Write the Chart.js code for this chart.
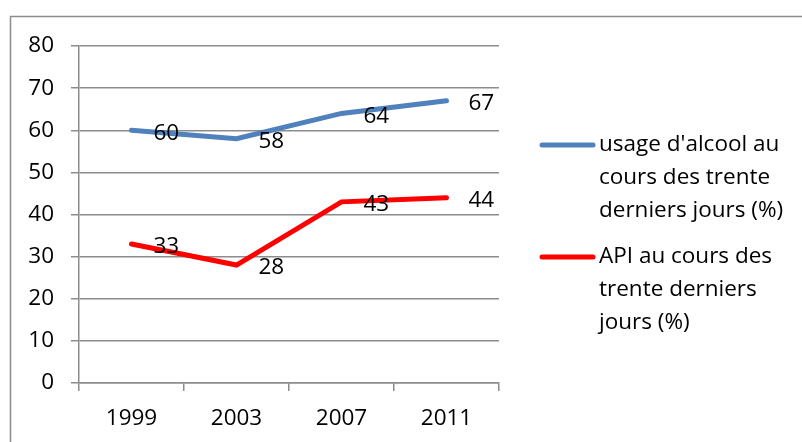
<!DOCTYPE html>
<html>
<head>
<meta charset="utf-8">
<script src="https://cdn.jsdelivr.net/npm/chart.js@4"></script>
<style>
  html, body { margin: 0; padding: 0; background: #fff; }
  #chart { display: block; }
</style>
</head>
<body>
<canvas id="chart" width="802" height="442"></canvas>
<script>
(() => {

  // data
  const years = ['1999', '2003', '2007', '2011'];
  const alcool = [60, 58, 64, 67];
  const api = [33, 28, 43, 44];
  const seriesNames = [
    ["usage d'alcool au", 'cours des trente', 'derniers jours (%)'],
    ['API au cours des', 'trente derniers', 'jours (%)']
  ];

  const FONT = '"Open Sans", Lato, sans-serif';
  const SIZE = 22.5;
  const gridColor = '#8c8c8c';

  // Outer frame
  const framePlugin = {
    id: 'frame',
    beforeDraw(chart) {
      const ctx = chart.ctx;
      ctx.save();
      ctx.fillStyle = '#fff';
      ctx.fillRect(0, 0, chart.width, chart.height);
      ctx.strokeStyle = '#8c8c8c';
      ctx.lineWidth = 1.5;
      ctx.strokeRect(10.5, 16.5, 820, 460);
      ctx.restore();
    }
  };

  // Value labels to the right of each point
  const valueLabels = {
    id: 'valueLabels',
    afterDatasetsDraw(chart) {
      const ctx = chart.ctx;
      ctx.save();
      ctx.font = SIZE + 'px ' + FONT;
      ctx.fillStyle = '#000';
      ctx.textAlign = 'left';
      ctx.textBaseline = 'middle';
      chart.data.datasets.forEach((ds, i) => {
        chart.getDatasetMeta(i).data.forEach((pt, j) => {
          ctx.fillText(ds.data[j], pt.x + 22, pt.y + 3);
        });
      });
      ctx.restore();
    }
  };

  // Legend on the right with wrapped labels
  const sideLegend = {
    id: 'sideLegend',
    afterDraw(chart) {
      const ctx = chart.ctx;
      const tops = [145, 257];
      ctx.save();
      ctx.font = SIZE + 'px ' + FONT;
      ctx.textAlign = 'left';
      ctx.textBaseline = 'middle';
      chart.data.datasets.forEach((ds, i) => {
        const y = tops[i];
        ctx.strokeStyle = ds.borderColor;
        ctx.lineWidth = 5;
        ctx.lineCap = 'round';
        ctx.beginPath();
        ctx.moveTo(542, y);
        ctx.lineTo(593, y);
        ctx.stroke();
        ctx.fillStyle = '#000';
        seriesNames[i].forEach((line, k) => {
          ctx.fillText(line, 599, y + k * 33);
        });
      });
      ctx.restore();
    }
  };

  const ctx = document.querySelector('#chart');

  new Chart(ctx, {
    type: 'line',
    data: {
      labels: years,
      datasets: [
        {
          label: seriesNames[0].join(' '),
          data: alcool,
          borderColor: '#4f81bd',
          borderWidth: 5,
          pointRadius: 0,
          borderCapStyle: 'round',
          tension: 0
        },
        {
          label: seriesNames[1].join(' '),
          data: api,
          borderColor: '#ff0000',
          borderWidth: 5,
          pointRadius: 0,
          borderCapStyle: 'round',
          tension: 0
        }
      ]
    },
    options: {
      responsive: false,
      animation: false,
      layout: {
        padding: { left: 0, top: 46, right: 303, bottom: 0 }
      },
      plugins: {
        legend: { display: false },
        tooltip: { enabled: false }
      },
      scales: {
        x: {
          offset: true,
          grid: {
            offset: true,
            drawOnChartArea: false,
            color: gridColor,
            lineWidth: 1.5,
            tickLength: 8
          },
          border: { color: gridColor, width: 1.5 },
          ticks: {
            color: '#000',
            font: { family: FONT, size: SIZE },
            padding: 14
          },
          afterFit(scale) { scale.height = 59; }
        },
        y: {
          min: 0,
          max: 80,
          ticks: {
            stepSize: 10,
            color: '#000',
            font: { family: FONT, size: SIZE },
            padding: 17
          },
          grid: {
            color: gridColor,
            lineWidth: 1.5,
            tickLength: 8
          },
          border: { color: gridColor, width: 1.5 },
          afterFit(scale) { scale.width = 79; }
        }
      }
    },
    plugins: [framePlugin, valueLabels, sideLegend]
  });

})();
</script>
</body>
</html>
